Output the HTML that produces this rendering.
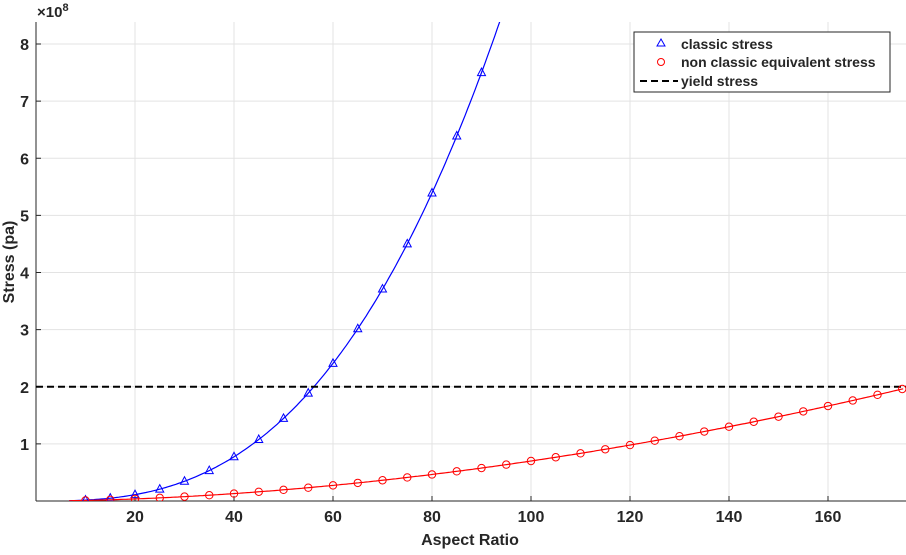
<!DOCTYPE html>
<html><head><meta charset="utf-8"><style>
body{margin:0;background:#fff}
svg text{font-family:"Liberation Sans",sans-serif;font-weight:bold;fill:#262626}
</style></head><body>
<svg id="s" width="906" height="550" xmlns="http://www.w3.org/2000/svg"></svg>
<script>
const s=document.getElementById('s');
const X=v=>36+v*4.95, Y=v=>501-v*57.125;
let h='';
h+='<clipPath id="c"><rect x="36" y="22" width="870" height="479"/></clipPath>';
for(let v=20;v<=160;v+=20){h+=`<line x1="${X(v)}" y1="22" x2="${X(v)}" y2="501" stroke="#e3e3e3"/>`;
h+=`<line x1="${X(v)}" y1="501" x2="${X(v)}" y2="496" stroke="#262626"/>`;
h+=`<text x="${X(v)}" y="522" font-size="16" text-anchor="middle">${v}</text>`;}
for(let v=1;v<=8;v++){h+=`<line x1="36" y1="${Y(v)}" x2="906" y2="${Y(v)}" stroke="#e3e3e3"/>`;
h+=`<line x1="36" y1="${Y(v)}" x2="41" y2="${Y(v)}" stroke="#262626"/>`;
h+=`<text x="29" y="${Y(v)+6}" font-size="16" text-anchor="end">${v}</text>`;}
h+='<line x1="36" y1="22" x2="36" y2="501" stroke="#262626"/><line x1="36" y1="501" x2="906" y2="501" stroke="#262626"/>';
h+='<text x="37" y="17" font-size="15" font-weight="normal">×10<tspan dy="-6" font-size="11">8</tspan></text>';
const fb=x=>2.53e-5*Math.pow(x,2.8), fr=x=>1.463e-4*Math.pow(x,1.84);
let pb='',pr='';
for(let x=6.7;x<=95;x+=0.5)pb+=(pb?'L':'M')+X(x).toFixed(1)+','+Y(fb(x)).toFixed(1);
for(let x=6.7;x<=175.5;x+=0.5)pr+=(pr?'L':'M')+X(x).toFixed(1)+','+Y(fr(x)).toFixed(1);
h+=`<g clip-path="url(#c)"><path d="${pb}" fill="none" stroke="#0000ff" stroke-width="1.2"/>`;
h+=`<path d="${pr}" fill="none" stroke="#ff0000" stroke-width="1.2"/>`;
h+=`<line x1="36" y1="${Y(2)}" x2="906" y2="${Y(2)}" stroke="#000" stroke-width="2" stroke-dasharray="7,4"/>`;
for(let x=10;x<=90;x+=5){const cx=X(x),cy=Y(fb(x));h+=`<path d="M${cx},${cy-4.5}L${cx+4},${cy+3}L${cx-4},${cy+3}Z" fill="none" stroke="#0000ff"/>`;}
for(let x=10;x<=175;x+=5){h+=`<circle cx="${X(x)}" cy="${Y(fr(x))}" r="3.7" fill="none" stroke="#ff0000"/>`;}
h+='</g>';
h+='<rect x="634" y="32" width="256" height="60" fill="#fff" stroke="#262626"/>';
h+='<path d="M661,39L665,46L657,46Z" fill="none" stroke="#0000ff"/>';
h+='<circle cx="661" cy="62" r="3.5" fill="none" stroke="#ff0000"/>';
h+='<line x1="640" y1="81" x2="678" y2="81" stroke="#000" stroke-width="2" stroke-dasharray="7,4"/>';
h+='<text x="681" y="49" font-size="14">classic stress</text>';
h+='<text x="681" y="67" font-size="14">non classic equivalent stress</text>';
h+='<text x="681" y="86" font-size="14">yield stress</text>';
h+='<text x="470" y="545" font-size="16" text-anchor="middle">Aspect Ratio</text>';
h+='<text transform="translate(14,262) rotate(-90)" font-size="16" text-anchor="middle">Stress (pa)</text>';
s.innerHTML=h;
</script>
</body></html>
